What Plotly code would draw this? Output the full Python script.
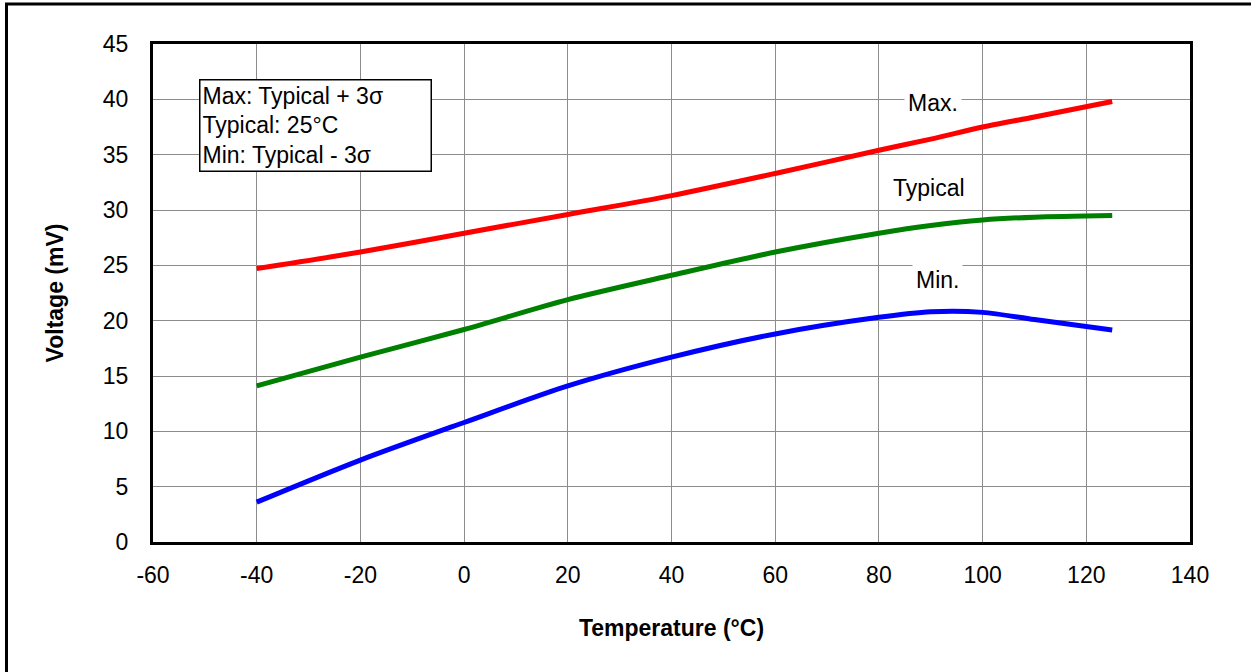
import plotly.graph_objects as go

# temperature points (°C)
temp = [-40, -20, 0, 20, 40, 60, 80, 90, 100, 110, 125]

v_max = [24.7, 26.2, 27.9, 29.6, 31.3, 33.3, 35.4, 36.4, 37.5, 38.4, 39.8]
v_typ = [14.1, 16.7, 19.2, 21.9, 24.1, 26.2, 27.9, 28.6, 29.1, 29.35, 29.5]
v_min = [3.6, 7.4, 10.8, 14.1, 16.7, 18.8, 20.3, 20.8, 20.75, 20.1, 19.15]

x_ticks = [-60, -40, -20, 0, 20, 40, 60, 80, 100, 120, 140]
y_ticks = [0, 5, 10, 15, 20, 25, 30, 35, 40, 45]

FONT = "Arial, Liberation Sans, sans-serif"

fig = go.Figure()
for name, ys, color in [("Max.", v_max, "#ff0000"),
                        ("Typical", v_typ, "#008000"),
                        ("Min.", v_min, "#0000ff")]:
    fig.add_trace(go.Scatter(x=temp, y=ys, mode="lines", name=name,
                             line=dict(color=color, width=5, shape="spline", smoothing=0.8)))

# curve labels with white boxes over the grid
for text, x, y in [("Max.", 90.4, 39.7), ("Typical", 89.7, 32.0), ("Min.", 91.3, 23.7)]:
    fig.add_annotation(x=x, y=y, text=text, showarrow=False, bgcolor="white",
                       font=dict(size=23, color="black", family=FONT), borderpad=3)

fig.add_annotation(xref="paper", yref="paper", x=0.0444, y=0.9297,
                   xanchor="left", yanchor="top", align="left", showarrow=False,
                   text="Max: Typical + 3σ<br>Typical: 25°C<br>Min: Typical - 3σ",
                   width=226,
                   font=dict(size=23, color="black", family=FONT),
                   bgcolor="white", bordercolor="black", borderwidth=1.5, borderpad=2)

# outer frame (only top and left edges fall inside the image)
fig.add_shape(type="rect", xref="paper", yref="paper",
              x0=(6.5 - 153) / 1037, x1=(1270 - 153) / 1037,
              y0=(542 - 700) / 498, y1=(542 - 4) / 498,
              line=dict(color="black", width=3), layer="below")

axis_common = dict(showgrid=True, gridcolor="#8c8c8c", gridwidth=1,
                   showline=True, linecolor="black", linewidth=3, mirror=True,
                   ticks="", zeroline=False,
                   tickfont=dict(size=23, color="black", family=FONT))

fig.update_xaxes(range=[-60, 140], tickvals=x_ticks, ticktext=[str(v) for v in x_ticks],
                 ticklabelstandoff=10,
                 title=dict(text="<b>Temperature (°C)</b>", standoff=34,
                            font=dict(size=23, color="black", family=FONT)),
                 **axis_common)
fig.update_yaxes(range=[0, 45], tickvals=y_ticks, ticktext=[str(v) for v in y_ticks],
                 ticklabelstandoff=17,
                 title=dict(text="<b>Voltage (mV)</b>", standoff=33,
                            font=dict(size=23, color="black", family=FONT)),
                 **axis_common)

fig.update_layout(width=1251, height=672, showlegend=False,
                  paper_bgcolor="white", plot_bgcolor="white",
                  margin=dict(l=153, r=61, t=44, b=130),
                  font=dict(family=FONT, color="black"))

fig.write_html("out.html", config={"displayModeBar": False},
               post_script="document.body.style.margin='0';")
